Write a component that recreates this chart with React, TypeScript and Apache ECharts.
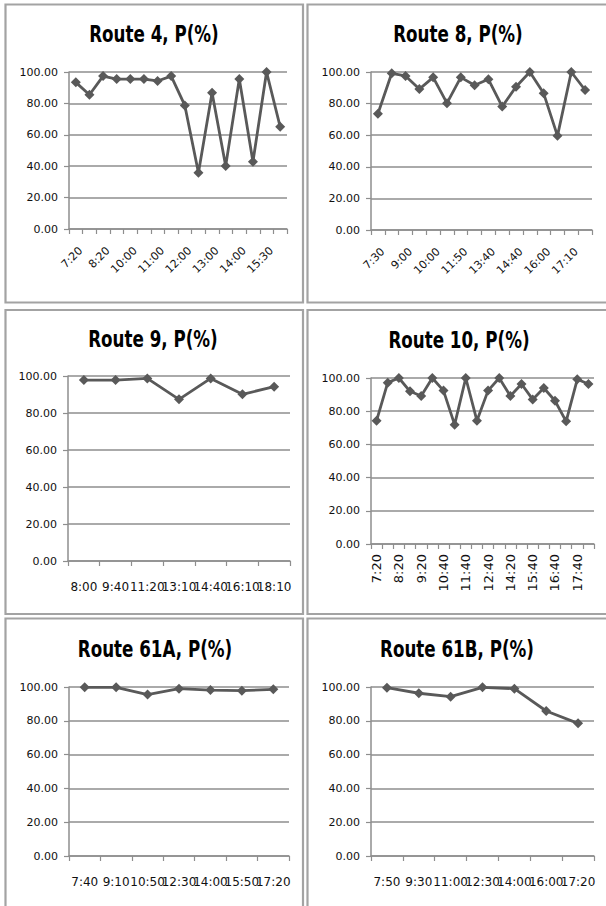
import React, { useEffect, useRef } from "react";
import * as echarts from "echarts";

// ---- data ----
const route4Times = ["7:20", "7:50", "8:20", "9:20", "10:00", "10:30", "11:00", "11:30", "12:00", "12:30", "13:00", "13:30", "14:00", "14:50", "15:30", "16:00"];
const route4Values = [93.4, 85.5, 97.4, 95.5, 95.5, 95.5, 94.3, 97.4, 78.7, 35.8, 86.8, 40.2, 95.5, 42.8, 100.0, 65.1];

const route8Times = ["7:30", "8:20", "9:00", "9:30", "10:00", "11:00", "11:50", "12:50", "13:40", "14:10", "14:40", "15:20", "16:00", "16:40", "17:10", "17:50"];
const route8Values = [73.6, 99.2, 97.5, 89.2, 96.6, 80.3, 96.6, 91.6, 95.4, 78.1, 90.7, 100.0, 86.5, 59.6, 100.0, 88.6];

const route9Times = ["8:00", "9:40", "11:20", "13:10", "14:40", "16:10", "18:10"];
const route9Values = [97.8, 97.8, 98.7, 87.4, 98.7, 90.1, 94.2];

const route10Times = ["7:20", "7:50", "8:20", "8:50", "9:20", "10:00", "10:40", "11:10", "11:40", "12:10", "12:40", "13:30", "14:20", "15:00", "15:40", "16:10", "16:40", "17:10", "17:40", "18:10"];
const route10Values = [74.3, 97.2, 100.0, 92.0, 89.2, 100.0, 92.4, 71.9, 100.0, 74.3, 92.4, 100.0, 89.2, 96.4, 87.1, 94.0, 86.3, 73.9, 99.2, 96.4];

const route61ATimes = ["7:40", "9:10", "10:50", "12:30", "14:00", "15:50", "17:20"];
const route61AValues = [99.8, 99.8, 95.5, 99.0, 98.2, 97.8, 98.6];

const route61BTimes = ["7:50", "9:30", "11:00", "12:30", "14:00", "16:00", "17:20"];
const route61BValues = [99.6, 96.3, 94.3, 99.8, 99.0, 85.8, 78.5];

const yTicks = [0, 20, 40, 60, 80, 100];

const titles = ["Route 4, P(%)", "Route 8, P(%)", "Route 9, P(%)", "Route 10, P(%)", "Route 61A, P(%)", "Route 61B, P(%)"];

// ---- layout ----
const panels = [
  { times: route4Times, values: route4Values, grid: { left: 69, top: 72, width: 218, height: 157 }, rotate: 45, interval: 1, margin: 15, font: 11, vAlign: "top", lh: 14, title: { x: 154, y: 34 } },
  { times: route8Times, values: route8Values, grid: { left: 371, top: 72, width: 221, height: 158 }, rotate: 45, interval: 1, margin: 15, font: 11, vAlign: "top", lh: 14, title: { x: 458, y: 34 } },
  { times: route9Times, values: route9Values, grid: { left: 68, top: 376, width: 222, height: 185 }, rotate: 0, interval: 0, margin: 20, font: 12, vAlign: undefined, lh: undefined, title: { x: 153, y: 339 } },
  { times: route10Times, values: route10Values, grid: { left: 371, top: 378, width: 223, height: 166 }, rotate: 90, interval: 1, margin: 10, font: 13, vAlign: undefined, lh: undefined, title: { x: 459, y: 340 } },
  { times: route61ATimes, values: route61AValues, grid: { left: 69, top: 687, width: 220, height: 169 }, rotate: 0, interval: 0, margin: 20, font: 12, vAlign: undefined, lh: undefined, title: { x: 155, y: 649 } },
  { times: route61BTimes, values: route61BValues, grid: { left: 371, top: 687, width: 223, height: 169 }, rotate: 0, interval: 0, margin: 20, font: 12, vAlign: undefined, lh: undefined, title: { x: 457, y: 649 } },
];

const borders = [
  { x: 5.5, y: 4.5, w: 297.5, h: 298 },
  { x: 307.5, y: 4.5, w: 305, h: 298 },
  { x: 5.5, y: 310, w: 297.5, h: 304 },
  { x: 307.5, y: 310, w: 305, h: 304 },
  { x: 5.5, y: 618.5, w: 297.5, h: 300 },
  { x: 307.5, y: 618.5, w: 305, h: 300 },
];

const LINE = "#595959";
const GRIDC = "#8e8e8e";
const LABEL_FONT = "'DejaVu Sans', sans-serif";
const TITLE_FONT = "'Liberation Sans Narrow', 'DejaVu Sans Condensed', Roboto, sans-serif";

export default function App() {
  const ref = useRef<HTMLDivElement>(null);
  useEffect(() => {
    if (!ref.current) return;
    const chart = echarts.init(ref.current, undefined, { renderer: "svg" });
    const option: any = {
      animation: false,
      backgroundColor: "#ffffff",
      grid: panels.map((p) => ({ ...p.grid, containLabel: false })),
      xAxis: panels.map((p, i) => {
        const label: any = {
          interval: p.interval,
          rotate: p.rotate,
          margin: p.margin,
          fontSize: p.font,
          fontFamily: LABEL_FONT,
          color: "#111",
          hideOverlap: false,
        };
        if (p.vAlign) label.verticalAlign = p.vAlign;
        if (p.lh) label.lineHeight = p.lh;
        return {
          type: "category",
          gridIndex: i,
          data: p.times,
          boundaryGap: true,
          axisLine: { show: true, lineStyle: { color: GRIDC, width: 1.5 } },
          axisTick: { show: true, interval: 0, length: 5, lineStyle: { color: GRIDC, width: 1.2 } },
          axisLabel: label,
          splitLine: { show: false },
        };
      }),
      yAxis: panels.map((p, i) => ({
        type: "value",
        gridIndex: i,
        min: yTicks[0],
        max: yTicks[yTicks.length - 1],
        interval: yTicks[1] - yTicks[0],
        axisLine: { show: true, lineStyle: { color: GRIDC, width: 1.5 } },
        axisTick: { show: true, length: 5, lineStyle: { color: GRIDC, width: 1.2 } },
        axisLabel: {
          margin: 11,
          fontSize: 11,
          fontFamily: LABEL_FONT,
          color: "#111",
          formatter: (v: number) => v.toFixed(2),
        },
        splitLine: { show: true, lineStyle: { color: GRIDC, width: 1.5 } },
      })),
      series: panels.map((p, i) => ({
        type: "line",
        xAxisIndex: i,
        yAxisIndex: i,
        data: p.values,
        symbol: "diamond",
        symbolSize: 10,
        showAllSymbol: true,
        lineStyle: { color: LINE, width: 2.8 },
        itemStyle: { color: LINE },
        z: 3,
      })),
      graphic: [
        ...borders.map((b) => ({
          type: "rect",
          shape: { x: b.x, y: b.y, width: b.w, height: b.h },
          style: { fill: "none", stroke: "#a3a3a3", lineWidth: 2.2 },
          silent: true,
        })),
        ...panels.map((p, i) => ({
          type: "text",
          x: p.title.x,
          y: p.title.y,
          scaleY: 1.22,
          style: {
            text: titles[i],
            fontSize: 18.6,
            fontWeight: "bold",
            fontFamily: TITLE_FONT,
            fill: "#000",
            textAlign: "center",
            textVerticalAlign: "middle",
          },
          silent: true,
        })),
      ],
    };
    chart.setOption(option);
    return () => chart.dispose();
  }, []);
  return (
    <div
      ref={ref}
      style={{ position: "fixed", left: 0, top: 0, width: 606, height: 906, background: "#fff" }}
    />
  );
}
